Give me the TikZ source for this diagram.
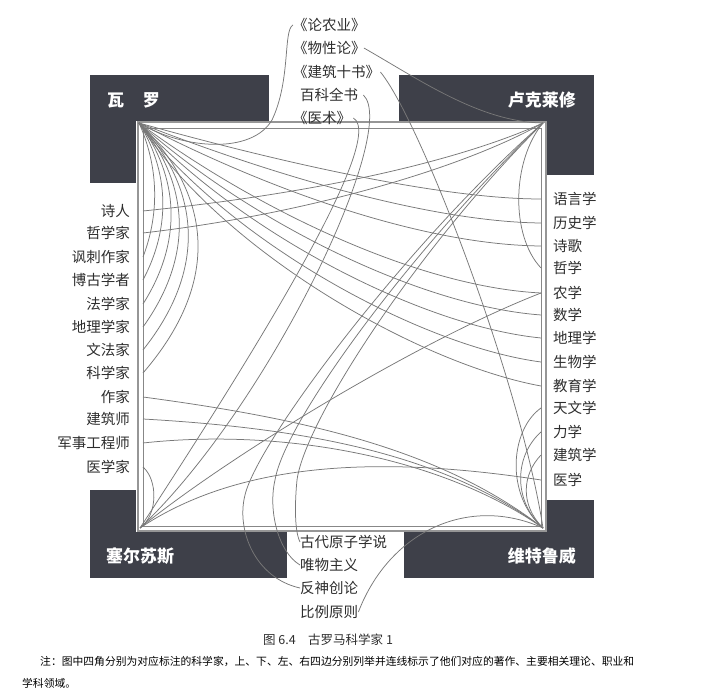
\documentclass[tikz,border=0pt]{standalone}
\usepackage{fontspec}
\setmainfont{Noto Sans CJK SC}
\definecolor{boxc}{RGB}{62,64,73}
\definecolor{labc}{RGB}{45,45,45}
\definecolor{linec}{RGB}{120,120,120}
\definecolor{framec}{RGB}{150,150,150}
\tikzset{
  lab/.style={font=\fontsize{14.5}{16}\selectfont, text=labc, inner sep=0pt},
  corner/.style={fill=boxc, draw=none},
  boxtext/.style={font=\fontsize{17}{19}\selectfont\bfseries, text=white, inner sep=0pt},
  con/.style={draw=linec, line width=0.75pt},
  notetext/.style={font=\fontsize{10.8}{12}\selectfont, text=black, inner sep=0pt, anchor=west},
}
\begin{document}
\begin{tikzpicture}[x=1pt,y=-1pt]
\useasboundingbox (0,0) rectangle (707,692);
% corner boxes
\fill[corner] (90,75) rectangle (269,183);
\fill[corner] (399,75) rectangle (594,175);
\fill[corner] (90,490) rectangle (287,578);
\fill[corner] (404,500) rectangle (594,578);
\node[boxtext, anchor=west] (varro) at (107,100) {瓦\hspace{1.1em}罗};
\node[boxtext, anchor=east] (lucr) at (576,100) {卢克莱修};
\node[boxtext, anchor=west] (cels) at (106,556) {塞尔苏斯};
\node[boxtext, anchor=east] (vitr) at (576,556) {维特鲁威};
% square
\fill[white] (136,121) rectangle (547,532);
\draw[framec, line width=2pt] (137.5,122.5) rectangle (545.5,530.5);
\draw[framec!90!black, line width=0.8pt] (143,128) rectangle (541,526);
\coordinate (TL) at (139,123);
\coordinate (TR) at (543,123);
\coordinate (BL) at (140,528);
\coordinate (BR) at (543,528);
\coordinate (eL) at (143,0);
\coordinate (eR) at (541,0);
% top labels
\node[lab, anchor=west] (t1) at (293,25) {《论农业》};
\node[lab, anchor=west] (t2) at (293,48) {《物性论》};
\node[lab, anchor=west] (t3) at (293,72) {《建筑十书》};
\node[lab, anchor=west] (t4) at (300,95) {百科全书};
\node[lab, anchor=west] (t5) at (293,118) {《医术》};
% left labels
\node[lab, anchor=east] (l1) at (130,211) {诗人};
\node[lab, anchor=east] (l2) at (130,233) {哲学家};
\node[lab, anchor=east] (l3) at (130,257) {讽刺作家};
\node[lab, anchor=east] (l4) at (130,280) {博古学者};
\node[lab, anchor=east] (l5) at (130,304) {法学家};
\node[lab, anchor=east] (l6) at (130,327) {地理学家};
\node[lab, anchor=east] (l7) at (130,350) {文法家};
\node[lab, anchor=east] (l8) at (130,373) {科学家};
\node[lab, anchor=east] (l9) at (130,397) {作家};
\node[lab, anchor=east] (l10) at (130,419) {建筑师};
\node[lab, anchor=east] (l11) at (130,443) {军事工程师};
\node[lab, anchor=east] (l12) at (130,467) {医学家};
% right labels
\node[lab, anchor=west] (r1) at (553,199) {语言学};
\node[lab, anchor=west] (r2) at (553,223) {历史学};
\node[lab, anchor=west] (r3) at (553,246) {诗歌};
\node[lab, anchor=west] (r4) at (553,268) {哲学};
\node[lab, anchor=west] (r5) at (553,293) {农学};
\node[lab, anchor=west] (r6) at (553,315) {数学};
\node[lab, anchor=west] (r7) at (553,338) {地理学};
\node[lab, anchor=west] (r8) at (553,362) {生物学};
\node[lab, anchor=west] (r9) at (553,386) {教育学};
\node[lab, anchor=west] (r10) at (553,408) {天文学};
\node[lab, anchor=west] (r11) at (553,432) {力学};
\node[lab, anchor=west] (r12) at (553,455) {建筑学};
\node[lab, anchor=west] (r13) at (553,480) {医学};
% bottom labels
\node[lab, anchor=west] (b1) at (300,542) {古代原子学说};
\node[lab, anchor=west] (b2) at (300,565) {唯物主义};
\node[lab, anchor=west] (b3) at (300,588) {反神创论};
\node[lab, anchor=west] (b4) at (300,612) {比例原则};
% ---- Varro (TL)
\draw[con] (t1.west) .. controls (283,30) and (291,80) .. (272,120) .. controls (252,154) and (185,150) .. (TL);
\draw[con] (TL) .. controls (300,168) and (450,199) .. (r1.west -| eR);
\draw[con] (TL) .. controls (290,182) and (440,222) .. (r2.west -| eR);
\draw[con] (TL) .. controls (280,196) and (430,245) .. (r3.west -| eR);
\draw[con] (TL) .. controls (260,212) and (420,287) .. (r5.west -| eR);
\draw[con] (TL) .. controls (250,222) and (420,306) .. (r6.west -| eR);
\draw[con] (TL) .. controls (240,232) and (420,326) .. (r7.west -| eR);
\draw[con] (TL) .. controls (230,242) and (420,346) .. (r8.west -| eR);
\draw[con] (TL) .. controls (222,252) and (420,364) .. (r9.west -| eR);
\draw[con] (TL) .. controls (157,163) and (161,210) .. (l3.east -| eL);
\draw[con] (TL) .. controls (168,170) and (172,225) .. (l4.east -| eL);
\draw[con] (TL) .. controls (179,177) and (183,241) .. (l5.east -| eL);
\draw[con] (TL) .. controls (190,184) and (194,256) .. (l6.east -| eL);
\draw[con] (TL) .. controls (202,191) and (206,271) .. (l7.east -| eL);
\draw[con] (TL) .. controls (215,198) and (219,285) .. (l8.east -| eL);
% ---- Lucretius (TR)
\draw[con] ([xshift=-2pt]t2.east) .. controls (420,80) and (480,122) .. (TR);
\draw[con] (l1.east -| eL) .. controls (300,195) and (450,165) .. (TR);
\draw[con] (l2.east -| eL) .. controls (300,215) and (460,170) .. (TR);
\draw[con] (TR) .. controls (512,160) and (510,235) .. (r4.west -| eR);
\draw[con] (b1.west) .. controls (294,530) and (295,500) .. (297,480) .. controls (305,420) and (420,245) .. (TR);
\draw[con] (b2.west) .. controls (278,552) and (268,510) .. (275,480) .. controls (285,420) and (415,245) .. (TR);
\draw[con] (b3.west) .. controls (255,578) and (236,530) .. (245,495) .. controls (258,440) and (410,240) .. (TR);
% ---- Celsus (BL)
\draw[con] ([xshift=2pt]t5.east) .. controls (390,140) and (230,390) .. (BL);
\draw[con] ([xshift=5pt]t4.east) .. controls (400,130) and (270,405) .. (BL);
\draw[con] (l12.east -| eL) .. controls (158,480) and (158,515) .. (BL);
\draw[con] (BL) .. controls (230,468) and (360,452) .. (r13.west -| eR);
\draw[con] (BL) .. controls (230,455) and (420,340) .. (r5.west -| eR);
% ---- Vitruvius (BR)
\draw[con] (t3.east) .. controls (420,120) and (520,380) .. (BR);
\draw[con] (l9.east -| eL) .. controls (300,418) and (440,448) .. (BR);
\draw[con] (l10.east -| eL) .. controls (300,428) and (440,452) .. (BR);
\draw[con] (l11.east -| eL) .. controls (280,428) and (440,456) .. (BR);
\draw[con] (BR) .. controls (505,495) and (510,430) .. (r10.west -| eR);
\draw[con] (BR) .. controls (512,500) and (515,455) .. (r11.west -| eR);
\draw[con] (BR) .. controls (520,505) and (522,475) .. (r12.west -| eR);
\draw[con] (b4.east) .. controls (390,530) and (470,495) .. (BR);
% caption and note
\node[font=\fontsize{12.5}{14}\selectfont, text=labc, inner sep=0pt] (cap) at (328,640) {图 6.4\hspace{1em}古罗马科学家 1};
\node[notetext] (note1) at (40,661) {注：图中四角分别为对应标注的科学家，上、下、左、右四边分别列举并连线标示了他们对应的著作、主要相关理论、职业和};
\node[notetext] (note2) at (22,683) {学科领域。};
\end{tikzpicture}
\end{document}
